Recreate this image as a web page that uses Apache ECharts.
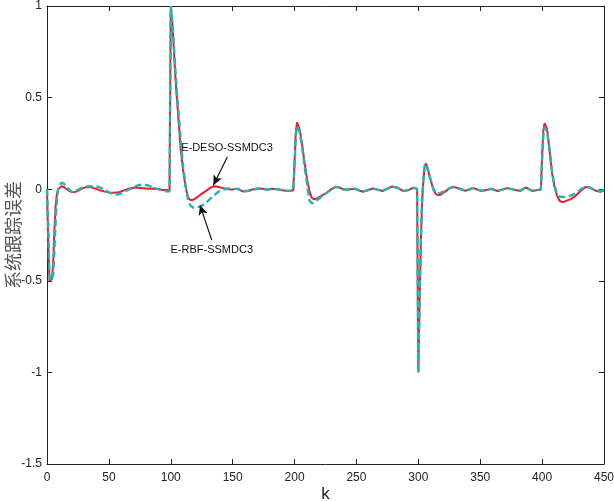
<!DOCTYPE html>
<html>
<head>
<meta charset="utf-8">
<script src="https://cdn.jsdelivr.net/npm/echarts@6/dist/echarts.min.js"></script>
<style>
  html, body { margin: 0; padding: 0; background: #fff; }
  #chart { width: 614px; height: 501px; }
</style>
</head>
<body>
<div id="chart"></div>
<script>
// sample instants k
const kSteps = [
  0,1,2,3,4,5,6,7,8,9,10,12,14,16,18,20,22,25,28,31,34,38,42,46,50,54,58,62,66,70,74,78,82,86,90,94,97,99,
  100,101,102,104,106,108,110,112,114,116,118,120,124,128,132,135,138,142,146,150,154,158,162,166,170,174,178,182,186,190,194,197,199,
  200,201,202,203,204,206,208,210,212,214,216,218,222,226,230,233,236,240,245,249,255,259,263,267,271,275,279,283,288,292,296,299,
  300,301,302,303,304,305,306,307,308,310,312,314,316,318,322,325,328,331,334,338,341,344,347,351,355,359,364,368,372,377,382,387,392,396,399,
  400,401,402,403,404,406,408,410,412,414,416,418,420,423,426,429,432,435,438,441,444,447,450
];

// tracking error, E-DESO-SSMDC3 (solid red)
const errDeso = [
  0,-0.3,-0.5,-0.5,-0.49,-0.4,-0.22,-0.09,-0.025,0,0.01,0.016,0.01,0,-0.01,-0.015,-0.016,-0.01,0.003,0.01,0.012,0.006,-0.004,-0.012,-0.018,-0.02,-0.016,-0.007,0.003,0.008,0.008,0.005,0.002,0.004,0,-0.004,-0.005,-0.005,
  1.0,0.93,0.82,0.58,0.4,0.22,0.1,0.01,-0.045,-0.06,-0.058,-0.05,-0.03,-0.012,0.008,0.016,0.013,0.006,0,-0.002,0.003,-0.012,-0.01,-0.002,0.004,0.002,-0.002,0.003,0,-0.006,-0.01,-0.008,-0.006,
  0.15,0.31,0.365,0.36,0.33,0.25,0.15,0.06,-0.01,-0.048,-0.056,-0.05,-0.035,-0.018,0.002,0.013,0.01,-0.003,0,0.002,-0.014,-0.006,0.004,-0.002,-0.01,0.003,0.015,0.008,-0.01,-0.005,0.008,0.002,
  -1.0,-0.62,-0.3,-0.08,0.04,0.12,0.14,0.128,0.1,0.05,0,-0.025,-0.033,-0.03,-0.012,0.004,0.013,0.008,0,-0.009,-0.002,0.007,0,-0.01,-0.004,0.002,-0.01,-0.002,0.006,-0.002,-0.01,0.01,-0.01,-0.005,-0.002,
  0.18,0.32,0.36,0.362,0.33,0.21,0.09,0.015,-0.035,-0.062,-0.07,-0.068,-0.062,-0.054,-0.042,-0.024,-0.005,0.012,0.01,0,-0.01,-0.014,-0.006
];

// tracking error, E-RBF-SSMDC3 (dashed cyan)
const errRbf = [
  0,-0.2,-0.47,-0.5,-0.5,-0.47,-0.33,-0.17,-0.06,0,0.02,0.036,0.028,0.012,-0.003,-0.014,-0.012,-0.003,0.007,0.013,0.016,0.015,0.012,0,-0.017,-0.029,-0.028,-0.016,-0.002,0.012,0.022,0.026,0.02,0.008,0,-0.008,-0.012,-0.012,
  1.0,0.94,0.84,0.62,0.44,0.27,0.12,0.02,-0.06,-0.09,-0.1,-0.1,-0.095,-0.078,-0.052,-0.034,-0.016,-0.003,0.004,0.002,0.002,-0.01,-0.01,-0.004,0.003,0.002,-0.003,0.002,0,-0.005,-0.008,-0.008,-0.006,
  0.13,0.29,0.345,0.34,0.315,0.235,0.13,0.035,-0.06,-0.078,-0.07,-0.06,-0.04,-0.02,0,0.012,0.01,-0.003,0,0.002,-0.013,-0.006,0.004,-0.002,-0.009,0.003,0.014,0.008,-0.009,-0.005,0.007,0.002,
  -1.0,-0.6,-0.28,-0.06,0.05,0.12,0.14,0.13,0.1,0.05,0.005,-0.018,-0.022,-0.02,-0.008,0.005,0.012,0.009,0.002,-0.007,-0.002,0.006,0,-0.008,-0.004,0.002,-0.008,-0.002,0.005,-0.002,-0.008,0.008,-0.008,-0.004,-0.002,
  0.16,0.3,0.34,0.342,0.315,0.22,0.1,0.02,-0.025,-0.04,-0.042,-0.042,-0.04,-0.035,-0.026,-0.012,0.003,0.012,0.01,0,-0.006,-0.01,-0.004
];

const seriesNames = ['E-DESO-SSMDC3', 'E-RBF-SSMDC3'];

// annotation anchors in data space: text position, arrow tail, arrow head
const desoNote = { text: [145.4, 0.227], tail: [145.7, 0.176], head: [134.4, 0.022] };
const rbfNote = { text: [133.1, -0.333], tail: [133.1, -0.278], head: [123.6, -0.087] };

const xRange = { min: 0, max: 450, interval: 50 };
const yRange = { min: -1.5, max: 1, interval: 0.5 };

const pair = (ys) => kSteps.map((k, i) => [k, ys[i]]);

const axisLine = { show: true, onZero: false, lineStyle: { color: '#222', width: 1 } };
const tick = { show: true, inside: true, length: 5, lineStyle: { color: '#222', width: 1 } };
const labelFont = { color: '#222', fontSize: 12, fontFamily: 'Liberation Sans, Arial, sans-serif' };

function note(cfg, name) {
  return {
    markLine: {
      silent: true,
      symbol: ['none', 'arrow'],
      symbolSize: [7, 10],
      lineStyle: { color: '#111', width: 1.2, type: 'solid' },
      label: { show: false },
      data: [[{ coord: cfg.tail }, { coord: cfg.head }]]
    },
    markPoint: {
      silent: true,
      symbol: 'circle',
      symbolSize: 1,
      itemStyle: { color: 'rgba(0,0,0,0)' },
      label: {
        show: true, position: 'inside', formatter: name,
        color: '#111', fontSize: 11, fontFamily: 'Liberation Sans, Arial, sans-serif'
      },
      data: [{ coord: cfg.text }]
    }
  };
}

const chart = echarts.init(document.getElementById('chart'), null, { renderer: 'canvas' });
chart.setOption({
  animation: false,
  backgroundColor: '#fff',
  grid: { left: 47, right: 10, top: 6, bottom: 37, containLabel: false, outerBoundsMode: 'none' },
  xAxis: [
    {
      type: 'value', ...xRange,
      axisLine, axisTick: tick, splitLine: { show: false },
      axisLabel: { ...labelFont, margin: 8 },
      name: 'k', nameLocation: 'middle', nameGap: 22, nameMoveOverlap: false,
      nameTextStyle: { color: '#222', fontSize: 17, fontFamily: 'Liberation Sans, Arial, sans-serif' }
    },
    {
      type: 'value', position: 'top', ...xRange,
      axisLine, axisTick: tick, splitLine: { show: false }, axisLabel: { show: false }
    }
  ],
  yAxis: [
    {
      type: 'value', ...yRange,
      axisLine, axisTick: tick, splitLine: { show: false },
      axisLabel: { ...labelFont, margin: 5 },
      name: '系统跟踪误差', nameLocation: 'middle', nameGap: 25, nameMoveOverlap: false,
      nameTextStyle: { color: '#555', fontSize: 18, fontFamily: 'Noto Sans CJK SC, sans-serif' }
    },
    {
      type: 'value', position: 'right', ...yRange,
      axisLine, axisTick: tick, splitLine: { show: false }, axisLabel: { show: false }
    }
  ],
  series: [
    {
      name: seriesNames[0], type: 'line', data: pair(errDeso),
      showSymbol: false, symbol: 'none',
      lineStyle: { color: '#ee1c25', width: 2 },
      z: 2,
      ...note(desoNote, seriesNames[0])
    },
    {
      name: seriesNames[1], type: 'line', data: pair(errRbf),
      showSymbol: false, symbol: 'none',
      lineStyle: { color: '#1fb5b8', width: 2.4, type: [7, 3.5] },
      z: 3,
      ...note(rbfNote, seriesNames[1])
    }
  ]
});
</script>
</body>
</html>
